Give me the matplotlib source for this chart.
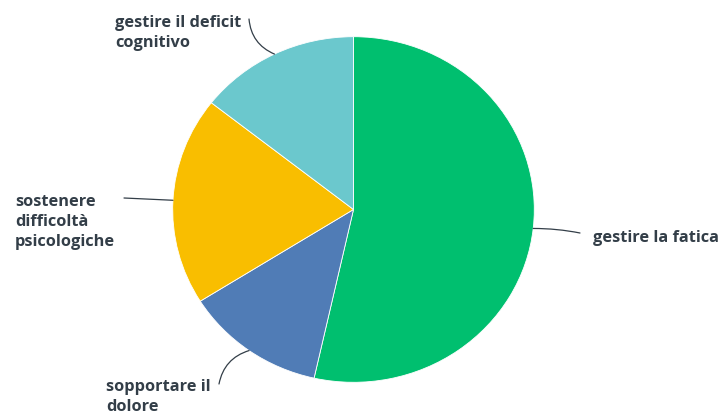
import numpy as np
import matplotlib.pyplot as plt

labels = ['gestire la fatica', 'sopportare il\ndolore',
          'sostenere\ndifficoltà\npsicologiche', 'gestire il deficit\ncognitivo']
values = [53.5, 12.6, 19.5, 14.4]
colors = ['#00BF6F', '#507CB6', '#F9BE00', '#6BC8CD']

W, H = 721, 414
s = 172.8 / 180.8          # the pie is slightly squashed vertically


def px(x, y):
    # pixel position (y from top) -> data coords
    return x, (H - y) / s


cx, cy = px(353.5, 210.5)
r = 180.8

fig = plt.figure(figsize=(W / 100, H / 100), dpi=100)
ax = fig.add_axes([0, 0, 1, 1])

wedges, _ = ax.pie(values, colors=colors, startangle=90, counterclock=False,
                   center=(cx, cy), radius=r, frame=True,
                   wedgeprops=dict(linewidth=0.6, edgecolor='white'))
ax.set_xlim(0, W)
ax.set_ylim(0, H / s)
ax.set_aspect('auto')
ax.axis('off')

# leader end points, text anchor (pixels, y from top), alignment, curvature
layout = [
    ((580, 234), (593, 235), 'left', 0.05),
    ((219, 385), (211, 384), 'right', -0.3),
    ((124, 199), (15, 199), 'left', 0.0),
    ((249, 20), (241, 20), 'right', 0.3),
]

font = dict(family=['Open Sans', 'DejaVu Sans'], weight='bold', size=11.8,
            color='#333E48')

for w, lab, (end, txt, ha, rad) in zip(wedges, labels, layout):
    mid = np.deg2rad((w.theta1 + w.theta2) / 2)
    anchor = (cx + r * np.cos(mid), cy + r * np.sin(mid))
    ax.annotate('', xy=anchor, xytext=px(*end),
                arrowprops=dict(arrowstyle='-', color='#333E48', lw=0.9,
                                connectionstyle=f'arc3,rad={rad}',
                                shrinkA=0, shrinkB=0))
    ax.text(*px(txt[0], txt[1] - 5), lab, ha=ha, va='top', multialignment='left',
            linespacing=1.33, **font)

fig.savefig('out.png', dpi=100)
